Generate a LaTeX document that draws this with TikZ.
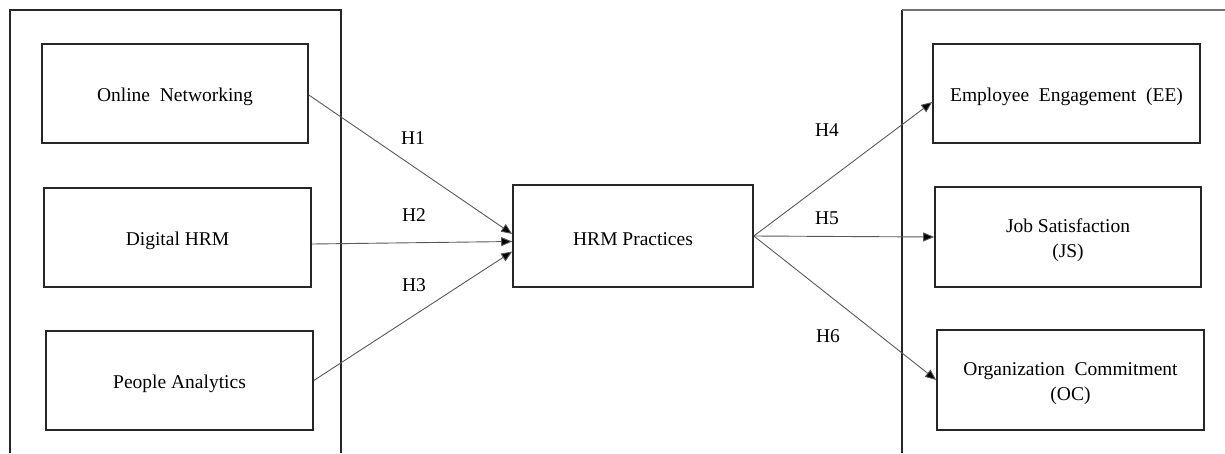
\documentclass[tikz,border=0pt]{standalone}
\usepackage{fontspec}
\setmainfont{Liberation Serif}
\usetikzlibrary{arrows.meta,calc}
\newcommand{\dnshift}[1]{\raisebox{-3pt}[\height][\depth]{#1}}
\newcommand{\twolines}[2]{\dnshift{\begin{tabular}{@{}c@{}}#1\\[0.5pt]#2\end{tabular}}}
\begin{document}
\begin{tikzpicture}[x=1pt,y=-1pt,
  box/.style={draw=black!85,line width=1.6pt,rectangle,inner sep=0pt,font=\fontsize{19.5}{25}\selectfont},
  conn/.style={draw=black!65,line width=0.9pt,-{Triangle[length=11pt,width=9pt,fill=black]}},
  hlab/.style={font=\fontsize{19.5}{24}\selectfont,inner sep=0pt},
  frame/.style={draw=black!85,line width=1.6pt}]
\useasboundingbox (0,0) rectangle (1225,453);
% frames
\draw[frame] (10,453) -- (10,10) -- (341,10) -- (341,453);
\draw[frame] (902,453) -- (902,10);
\draw[draw=black!55,line width=1.1pt] (902,10) -- (1225,10);
% left boxes
\node[box,minimum width=266pt,minimum height=99pt] (on) at (175,93.5) {\dnshift{Online\ \ Networking}};
\node[box,minimum width=267pt,minimum height=99pt] (dh) at (177.5,237.5) {\dnshift{Digital HRM}};
\node[box,minimum width=267pt,minimum height=99pt] (pa) at (179.5,380.5) {\dnshift{People Analytics}};
% center
\node[box,minimum width=240pt,minimum height=102pt] (hrm) at (633,236) {\dnshift{HRM Practices}};
% right boxes
\node[box,minimum width=267pt,minimum height=99pt] (ee) at (1066.5,93.5) {\dnshift{Employee\ \ Engagement\ \ (EE)}};
\node[box,minimum width=266pt,minimum height=100pt] (js) at (1068,237) {\twolines{Job Satisfaction}{(JS)}};
\node[box,minimum width=267pt,minimum height=100pt] (oc) at (1070.5,380) {\twolines{Organization\ \ Commitment}{(OC)}};
% connectors
\draw[conn] ($(on.east)+(0,1.5)$) -- ($(hrm.west)+(0,-2)$);
\draw[conn] ($(dh.east)+(0,6.5)$) -- ($(hrm.west)+(0,5.5)$);
\draw[conn] (pa.east) -- ($(hrm.west)+(0,15.5)$);
\draw[conn] (hrm.east) -- ($(ee.west)+(0,8.5)$);
\draw[conn] (hrm.east) -- (js.west);
\draw[conn] (hrm.east) -- (oc.west);
% labels
\node[hlab] (h1) at (413,138) {H1};
\node[hlab] (h2) at (414,215) {H2};
\node[hlab] (h3) at (414,285) {H3};
\node[hlab] (h4) at (827,130) {H4};
\node[hlab] (h5) at (827,218) {H5};
\node[hlab] (h6) at (828,336) {H6};
\end{tikzpicture}
\end{document}
